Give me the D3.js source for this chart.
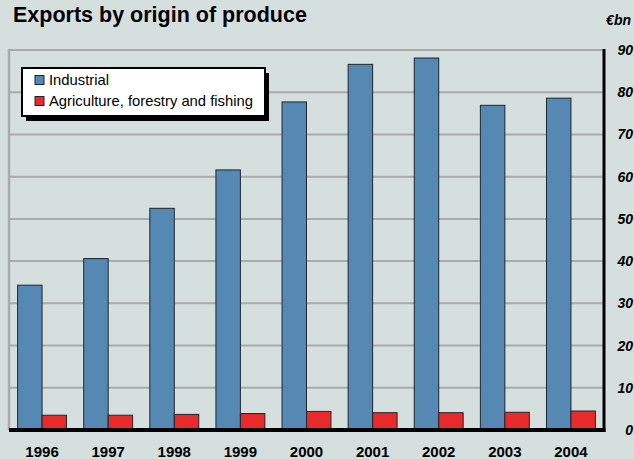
<!DOCTYPE html>
<html>
<head>
<meta charset="utf-8">
<script src="https://cdn.jsdelivr.net/npm/d3@7"></script>
<style>
  html, body { margin: 0; padding: 0; background: #d5dfde; }
  svg { display: block; }
</style>
</head>
<body>
<div id="chart"></div>
<script>
const years = ['1996', '1997', '1998', '1999', '2000', '2001', '2002', '2003', '2004'];
const industrial = [34.3, 40.6, 52.5, 61.6, 77.7, 86.6, 88.1, 76.9, 78.6];
const agriculture = [3.5, 3.5, 3.7, 3.9, 4.4, 4.1, 4.1, 4.2, 4.5];
const seriesNames = ['Industrial', 'Agriculture, forestry and fishing'];
const yTicks = [0, 10, 20, 30, 40, 50, 60, 70, 80, 90];

const width = 634
    , height = 459
    , plotLeft = 9
    , plotRight = 604
    , plotTop = 50
    , plotBottom = 430
    , bgColor = '#d5dfde'
    , gridColor = '#a9aaaa'
    , colors = ['#5588b3', '#e82a2a']
    , font = '"Liberation Sans", Arial, sans-serif'
    ;

const svg = d3.select('#chart')
  .append('svg')
  .attr('width', width)
  .attr('height', height)
  .style('background', bgColor);

const x = d3.scaleBand()
  .domain(years)
  .range([plotLeft, plotRight])
  .paddingInner(0.26)
  .paddingOuter(0.13);

const xs = d3.scaleBand()
  .domain(seriesNames)
  .range([0, x.bandwidth()]);

const y = d3.scaleLinear()
  .domain([0, 90])
  .range([plotBottom, plotTop]);

// gridlines
svg.append('g')
  .selectAll('line')
  .data(yTicks.filter(d => d > 0))
  .join('line')
    .attr('x1', plotLeft)
    .attr('x2', plotRight)
    .attr('y1', d => y(d))
    .attr('y2', d => y(d))
    .attr('stroke', gridColor)
    .attr('stroke-width', 2);

svg.append('line')
  .attr('x1', plotLeft).attr('x2', plotLeft)
  .attr('y1', plotTop - 1).attr('y2', plotBottom)
  .attr('stroke', gridColor)
  .attr('stroke-width', 2.5);

// bars
const rows = years.map((yr, i) => ({ year: yr, values: [industrial[i], agriculture[i]] }));

svg.append('g')
  .selectAll('g')
  .data(rows)
  .join('g')
    .attr('transform', d => `translate(${x(d.year)},0)`)
  .selectAll('rect')
  .data(d => d.values.map((v, j) => ({ name: seriesNames[j], value: v, j })))
  .join('rect')
    .attr('x', d => xs(d.name))
    .attr('width', xs.bandwidth())
    .attr('y', d => y(d.value))
    .attr('height', d => y(0) - y(d.value))
    .attr('fill', d => colors[d.j])
    .attr('stroke', '#1e2630')
    .attr('stroke-width', 1);

// right axis + baseline
svg.append('line')
  .attr('x1', plotRight).attr('x2', plotRight)
  .attr('y1', plotTop - 1).attr('y2', plotBottom + 2)
  .attr('stroke', '#000')
  .attr('stroke-width', 3);

svg.append('line')
  .attr('x1', plotLeft).attr('x2', plotRight + 1.5)
  .attr('y1', plotBottom).attr('y2', plotBottom)
  .attr('stroke', '#000')
  .attr('stroke-width', 4);

// y labels
svg.append('g')
  .attr('font-family', font)
  .attr('font-size', 14)
  .attr('font-weight', 'bold')
  .attr('font-style', 'italic')
  .attr('text-anchor', 'end')
  .selectAll('text')
  .data(yTicks)
  .join('text')
    .attr('x', 633)
    .attr('y', d => y(d) + 5)
    .text(d => d);

svg.append('text')
  .attr('x', 631)
  .attr('y', 25)
  .attr('text-anchor', 'end')
  .attr('font-family', font)
  .attr('font-size', 14)
  .attr('font-weight', 'bold')
  .attr('font-style', 'italic')
  .text('€bn');

// x labels
svg.append('g')
  .attr('font-family', font)
  .attr('font-size', 15)
  .attr('font-weight', 'bold')
  .attr('text-anchor', 'middle')
  .selectAll('text')
  .data(years)
  .join('text')
    .attr('x', d => x(d) + x.bandwidth() / 2)
    .attr('y', 457)
    .text(d => d);

// title
svg.append('text')
  .attr('x', 13)
  .attr('y', 22)
  .attr('font-family', font)
  .attr('font-size', 21.5)
  .attr('font-weight', 'bold')
  .text('Exports by origin of produce');

// legend
const legend = svg.append('g').attr('transform', 'translate(22,68)');

legend.append('rect')
  .attr('x', 4).attr('y', 5)
  .attr('width', 243).attr('height', 48)
  .attr('fill', '#000');

legend.append('rect')
  .attr('x', 0).attr('y', 0)
  .attr('width', 243).attr('height', 48)
  .attr('fill', '#fff')
  .attr('stroke', '#000')
  .attr('stroke-width', 2);

const item = legend.selectAll('g.item')
  .data(seriesNames)
  .join('g')
    .attr('class', 'item')
    .attr('transform', (d, i) => `translate(13,${12 + i * 21})`);

item.append('rect')
  .attr('width', 9).attr('height', 9).attr('y', -4.5)
  .attr('fill', (d, i) => colors[i])
  .attr('stroke', '#1e2630')
  .attr('stroke-width', 1);

item.append('text')
  .attr('x', 14)
  .attr('y', 5)
  .attr('font-family', font)
  .attr('font-size', 14.8)
  .text(d => d);
</script>
</body>
</html>
